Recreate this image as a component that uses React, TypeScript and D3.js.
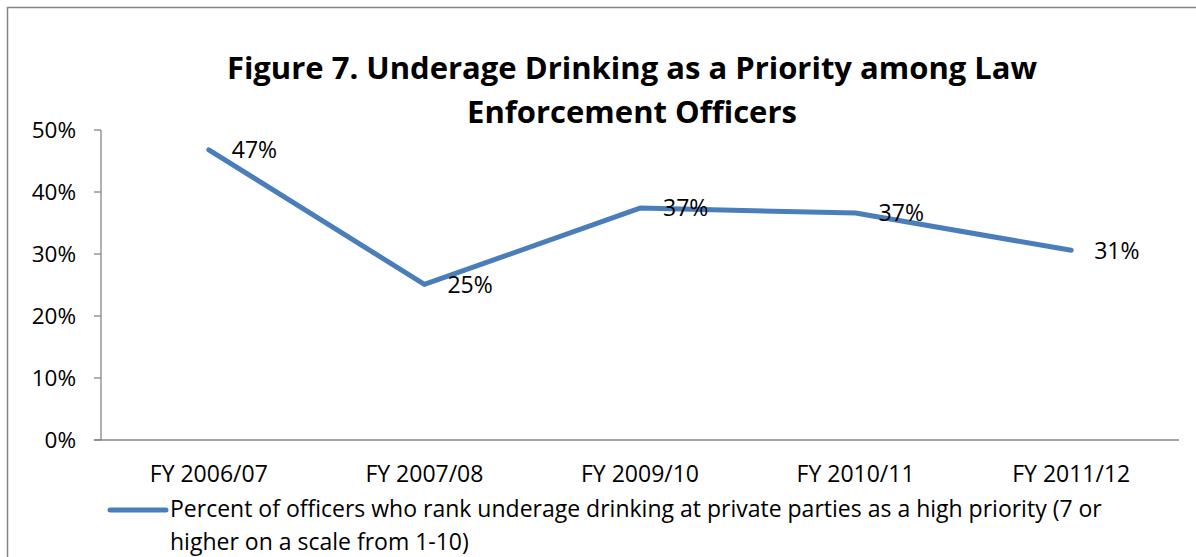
import React from "react";
import * as d3 from "d3";

const categories = ["FY 2006/07", "FY 2007/08", "FY 2009/10", "FY 2010/11", "FY 2011/12"];
const values = [0.468, 0.251, 0.374, 0.366, 0.306];
const valueLabels = ["47%", "25%", "37%", "37%", "31%"];
const yTicks = [0, 0.1, 0.2, 0.3, 0.4, 0.5];
const titleLines = ["Figure 7. Underage Drinking as a Priority among Law", "Enforcement Officers"];
const legendLines = [
  "Percent of officers who rank underage drinking at private parties as a high priority (7 or",
  "higher on a scale from 1-10)",
];

const W = 1196;
const H = 557;
const FONT = "'Open Sans', Lato, sans-serif";
const BLUE = "#4A7EBB";
const AXIS = "#868686";

export default function App() {
  const x = d3.scaleBand<string>().domain(categories).range([101, 1179]);
  const y = d3.scaleLinear().domain([0, 0.5]).range([440, 130]);
  const pts: [number, number][] = values.map((v, i) => [x(categories[i])! + x.bandwidth() / 2, y(v)]);
  const line = d3.line()(pts) || "";
  const fmt = d3.format(".0%");

  return (
    <svg width={W} height={H} style={{ position: "absolute", left: 0, top: 0, background: "#fff" }} fontFamily={FONT}>
      <rect x={0} y={0} width={W} height={H} fill="#fff" />
      {/* frame */}
      <path d={`M7.5,${H} V7.5 H${W}`} fill="none" stroke="#878787" strokeWidth={1.5} />
      {/* title */}
      {titleLines.map((t, i) => (
        <text key={i} x={632} y={79 + i * 44} textAnchor="middle" fontWeight="bold" fontSize={31} fill="#000">
          {t}
        </text>
      ))}
      {/* y axis */}
      <line x1={101} x2={101} y1={y(0.5)} y2={y(0)} stroke={AXIS} strokeWidth={1.3} />
      {yTicks.map((t) => (
        <g key={t}>
          <line x1={94} x2={101} y1={y(t)} y2={y(t)} stroke={AXIS} strokeWidth={1.3} />
          <text x={76} y={y(t)} dy="0.36em" textAnchor="end" fontSize={22.5} fill="#000">
            {fmt(t)}
          </text>
        </g>
      ))}
      {/* x axis */}
      <line x1={94} x2={1179} y1={y(0)} y2={y(0)} stroke={AXIS} strokeWidth={1.3} />
      {categories.map((c) => (
        <text key={c} x={x(c)! + x.bandwidth() / 2} y={482} textAnchor="middle" fontSize={23} fill="#000">
          {c}
        </text>
      ))}
      {/* series */}
      <path d={line} fill="none" stroke={BLUE} strokeWidth={5} strokeLinejoin="round" strokeLinecap="round" />
      {pts.map((p, i) => (
        <text key={i} x={p[0] + 23} y={p[1]} dy="0.36em" fontSize={23} fill="#000">
          {valueLabels[i]}
        </text>
      ))}
      {/* legend */}
      <line x1={110} x2={166} y1={510} y2={510} stroke={BLUE} strokeWidth={5} strokeLinecap="round" />
      {legendLines.map((t, i) => (
        <text key={i} x={170} y={517 + i * 33} fontSize={23} fill="#000">
          {t}
        </text>
      ))}
    </svg>
  );
}
